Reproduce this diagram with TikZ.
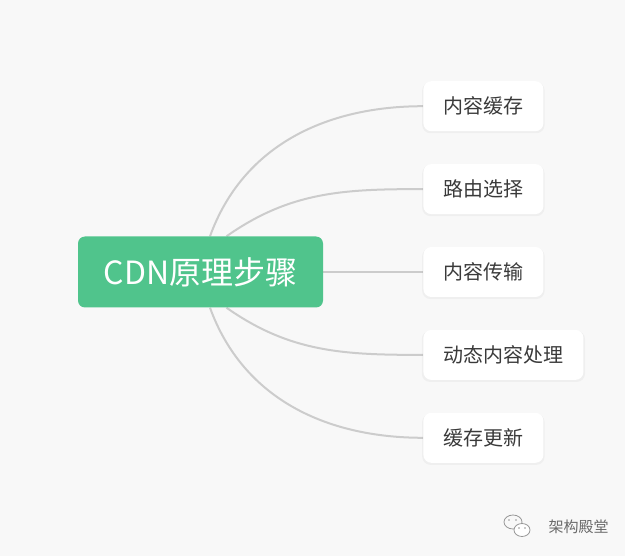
\documentclass[tikz,border=0pt]{standalone}
\usepackage{fontspec}
\setmainfont{Noto Sans CJK SC}
\usetikzlibrary{positioning,shadows,backgrounds}
\definecolor{rootgreen}{HTML}{50C48C}
\definecolor{leaftext}{HTML}{3A3A3A}
\definecolor{linkgray}{HTML}{CCCCCC}
\definecolor{bggray}{HTML}{F8F8F8}
\definecolor{markgray}{HTML}{6A6A6A}

\begin{document}
\begin{tikzpicture}[x=1pt,y=-1pt,node distance=32.5pt,
  root/.style={fill=rootgreen,text=white,rounded corners=7pt,
    minimum width=245pt,minimum height=71pt,font=\fontsize{32}{36}\selectfont},
  leaf/.style={fill=white,text=leaftext,rounded corners=8pt,
    minimum height=50pt,inner xsep=20pt,font=\fontsize{20}{24}\selectfont,
    drop shadow={opacity=0.07,shadow xshift=0pt,shadow yshift=-1.5pt,shadow scale=1.02}},
  link/.style={draw=linkgray,line width=2pt}]
  \useasboundingbox (0,0) rectangle (625,556);
  \node (root) [root] at (200.5,272) {CDN原理步骤};
  \node (send) [leaf,right=100pt of root] {内容传输};
  \node (route) [leaf,above=of send.north west,anchor=south west] {路由选择};
  \node (cache) [leaf,above=of route.north west,anchor=south west] {内容缓存};
  \node (dyn) [leaf,below=of send.south west,anchor=north west] {动态内容处理};
  \node (upd) [leaf,below=of dyn.south west,anchor=north west] {缓存更新};
  \coordinate (r1) at ([xshift=9.5pt]root.north);
  \coordinate (r2) at ([xshift=26pt]root.north);
  \coordinate (r4) at ([xshift=26pt]root.south);
  \coordinate (r5) at ([xshift=9.5pt]root.south);
  \begin{scope}[on background layer]
    \fill[bggray] (0,0) rectangle (625,556);
    \draw[link] (r1) .. controls +(33,-91) and +(-97,0) .. (cache.west);
    \draw[link] (r2) .. controls +(64,-45) and +(-79,0) .. (route.west);
    \draw[link] (root.east) -- (send.west);
    \draw[link] (r4) .. controls +(64,45) and +(-79,0) .. (dyn.west);
    \draw[link] (r5) .. controls +(33,91) and +(-97,0) .. (upd.west);
  \end{scope}
  \node (mark) [text=markgray,font=\fontsize{15}{18}\selectfont,anchor=west] at (545,527) {架构殿堂};
  \draw[markgray!70,line width=0.8pt,fill=bggray] (513,522) ellipse [x radius=9,y radius=7];
  \draw[markgray!70,line width=0.8pt,fill=white] (522,530) ellipse [x radius=8,y radius=6.5];
  \foreach \dx/\dy in {509/520,516/520,519/528,525/528}
    \fill[markgray!70] (\dx,\dy) circle [radius=0.9];
\end{tikzpicture}
\end{document}
